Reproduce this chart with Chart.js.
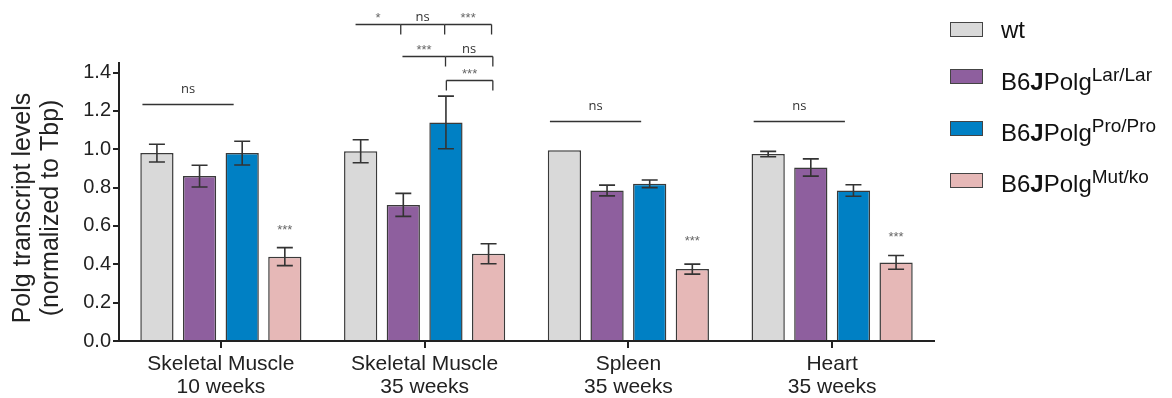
<!DOCTYPE html>
<html><head><meta charset="utf-8">
<script src="https://cdn.jsdelivr.net/npm/chart.js@4/dist/chart.umd.min.js"></script>
<style>
html,body{margin:0;padding:0;background:#fff;}
#wrap{position:relative;width:1172px;height:398px;overflow:hidden;}
canvas{position:absolute;left:0;top:0;}
.lbox{position:absolute;left:950px;width:31px;height:13px;border:1.5px solid #444;}
.ltxt{position:absolute;left:1001px;font-family:"Liberation Sans",Arial,sans-serif;font-size:24px;line-height:24px;color:#111;white-space:nowrap;}
.ltxt b{font-weight:bold;}
.ltxt sup{font-size:19px;position:relative;top:-9px;vertical-align:baseline;line-height:0;}
</style></head>
<body><div id="wrap"><canvas id="c" width="1172" height="398"></canvas><div id="legend"></div></div>
<script>
// ---- data ----
const categories = [["Skeletal Muscle","10 weeks"],["Skeletal Muscle","35 weeks"],["Spleen","35 weeks"],["Heart","35 weeks"]];
const legendBase = ["wt","B6JPolg","B6JPolg","B6JPolg"];
const legendSup = ["","Lar/Lar","Pro/Pro","Mut/ko"];
const wtValues  = [0.98, 0.99, 0.995, 0.975];
const larValues = [0.86, 0.71, 0.785, 0.905];
const proValues = [0.98, 1.14, 0.82, 0.785];
const mutValues = [0.44, 0.455, 0.375, 0.41];
const wtErr  = [0.046, 0.06, 0, 0.014];
const larErr = [0.057, 0.06, 0.028, 0.045];
const proErr = [0.062, 0.137, 0.02, 0.03];
const mutErr = [0.047, 0.052, 0.026, 0.036];
const yTicks = [0, 0.2, 0.4, 0.6, 0.8, 1.0, 1.2, 1.4];
const seriesColors = ["#d9d9d9", "#8e5f9e", "#0080c4", "#e6b8b7"];
// "***" over the Mut/ko bar (value level of the text), null = none
const mutStarsY = [0.60, null, 0.54, 0.565];
// "ns" bar (value level) over wt..Pro for each category, null = none
const nsLineY = [1.236, null, 1.145, 1.145];
// significance brackets in Skeletal Muscle 35 weeks (slot offsets from group centre)
const bracketCat   = 1;
const bracketY     = [1.654, 1.654, 1.654, 1.488, 1.488, 1.363];
const bracketFrom  = [-1.62, -0.56, 0.47, -0.52, 0.49, 0.51];
const bracketTo    = [-0.56, 0.47, 1.57, 0.49, 1.60, 1.60];
const bracketLabel = ["*", "ns", "***", "***", "ns", "***"];
const bracketTickL = [false, false, false, false, false, true];

const FONT = '"Liberation Sans", Arial, sans-serif';
const INK = '#222';
const values = [wtValues, larValues, proValues, mutValues];
const errs = [wtErr, larErr, proErr, mutErr];

// legend
const leg = document.getElementById('legend');
const boxCY = [30, 77, 128.7, 180.5];
const baseY = [38, 90.7, 141.7, 192.7];
legendBase.forEach((b, i) => {
  const box = document.createElement('div');
  box.className = 'lbox';
  box.style.top = (boxCY[i] - 8) + 'px';
  box.style.background = seriesColors[i];
  leg.appendChild(box);
  const t = document.createElement('div');
  t.className = 'ltxt';
  t.style.top = (baseY[i] - 20.3) + 'px';
  if (legendSup[i]) {
    t.innerHTML = b.replace('J', '<b>J</b>') + '<sup>' + legendSup[i] + '</sup>';
  } else t.textContent = b;
  leg.appendChild(t);
});

const errorBars = {
  id: 'errorBars',
  afterDatasetsDraw(chart) {
    const ctx = chart.ctx, y = chart.scales.y;
    ctx.save();
    ctx.strokeStyle = '#333';
    ctx.lineWidth = 1.6;
    chart.data.datasets.forEach((ds, i) => {
      const meta = chart.getDatasetMeta(i);
      meta.data.forEach((bar, j) => {
        const e = errs[i][j];
        if (!e) return;
        const v = ds.data[j];
        const yt = y.getPixelForValue(v + e), yb = y.getPixelForValue(v - e);
        ctx.beginPath();
        ctx.moveTo(bar.x, yt); ctx.lineTo(bar.x, yb);
        ctx.moveTo(bar.x - 8, yt); ctx.lineTo(bar.x + 8, yt);
        ctx.moveTo(bar.x - 8, yb); ctx.lineTo(bar.x + 8, yb);
        ctx.stroke();
      });
    });
    ctx.restore();
  }
};

const annotations = {
  id: 'annotations',
  afterDatasetsDraw(chart) {
    const ctx = chart.ctx, x = chart.scales.x, y = chart.scales.y;
    const m0 = chart.getDatasetMeta(0), m1 = chart.getDatasetMeta(1), m3 = chart.getDatasetMeta(3);
    const slot = m1.data[0].x - m0.data[0].x;
    ctx.save();
    ctx.lineWidth = 1.3;
    ctx.strokeStyle = '#333';
    ctx.textAlign = 'center';
    ctx.textBaseline = 'alphabetic';
    ctx.fillStyle = '#666';
    ctx.font = '13px ' + FONT;
    mutStarsY.forEach((sy, j) => {
      if (sy == null) return;
      ctx.fillText('***', m3.data[j].x, y.getPixelForValue(sy) + 8);
    });
    nsLineY.forEach((ly, j) => {
      if (ly == null) return;
      const c = x.getPixelForValue(j);
      const py = Math.round(y.getPixelForValue(ly)) + 0.5;
      const x1 = c - 1.84 * slot, x2 = c + 0.3 * slot;
      ctx.beginPath(); ctx.moveTo(x1, py); ctx.lineTo(x2, py); ctx.stroke();
      ctx.fillStyle = '#333';
      ctx.font = '13px "Open Sans", ' + FONT;
      ctx.fillText('ns', (x1 + x2) / 2, py - 12);
    });
    const c = x.getPixelForValue(bracketCat);
    const tick = 10;
    bracketY.forEach((by, k) => {
      const py = Math.round(y.getPixelForValue(by)) + 0.5;
      const x1 = c + bracketFrom[k] * slot, x2 = c + bracketTo[k] * slot;
      ctx.beginPath();
      ctx.moveTo(x1, py); ctx.lineTo(x2, py);
      ctx.moveTo(x2, py); ctx.lineTo(x2, py + tick);
      if (bracketTickL[k]) { ctx.moveTo(x1, py); ctx.lineTo(x1, py + tick); }
      ctx.stroke();
      const lab = bracketLabel[k];
      if (lab === 'ns') { ctx.fillStyle = '#333'; ctx.font = '13px "Open Sans", ' + FONT; }
      else { ctx.fillStyle = '#666'; ctx.font = '13px ' + FONT; }
      ctx.fillText(lab, (x1 + x2) / 2, py - (lab === 'ns' ? 4 : 3));
    });
    ctx.restore();
  }
};

const yTitle = {
  id: 'yTitle',
  afterDraw(chart) {
    const ctx = chart.ctx;
    ctx.save();
    ctx.fillStyle = INK;
    ctx.font = '25px ' + FONT;
    ctx.textAlign = 'center';
    ctx.textBaseline = 'middle';
    ctx.translate(0, 208);
    ctx.rotate(-Math.PI / 2);
    ctx.fillText('Polg transcript levels', 0, 23);
    ctx.fillText('(normalized to Tbp)', 0, 51);
    ctx.restore();
  }
};

new Chart(document.getElementById('c'), {
  type: 'bar',
  data: {
    labels: categories,
    datasets: values.map((v, i) => ({
      label: legendBase[i] + legendSup[i],
      data: v,
      backgroundColor: seriesColors[i],
      borderColor: '#3a3a3a',
      borderWidth: 1.5,
      categoryPercentage: 0.837,
      barPercentage: 0.78
    }))
  },
  options: {
    responsive: false,
    animation: false,
    devicePixelRatio: 1,
    layout: { padding: { top: 63, right: 238, left: 0, bottom: 0 } },
    plugins: { legend: { display: false }, tooltip: { enabled: false } },
    scales: {
      x: {
        grid: { display: true, offset: false, drawOnChartArea: false, drawTicks: true, tickLength: 7, color: INK, lineWidth: 2 },
        border: { color: INK, width: 2 },
        ticks: { font: { size: 21, family: FONT, lineHeight: 1.1 }, color: INK, padding: 5, maxRotation: 0, autoSkip: false },
        afterFit(s) { s.height = 57; }
      },
      y: {
        min: 0, max: 1.45,
        afterBuildTicks(s) { s.ticks = yTicks.map(v => ({ value: v })); },
        grid: { drawOnChartArea: false, drawTicks: true, tickLength: 6, color: INK, lineWidth: 2 },
        border: { color: INK, width: 2 },
        ticks: { font: { size: 20, family: FONT }, color: INK, padding: 2, callback: v => Number(v).toFixed(1) },
        afterFit(s) { s.width = 119; }
      }
    }
  },
  plugins: [errorBars, annotations, yTitle]
});
</script>
</body></html>
